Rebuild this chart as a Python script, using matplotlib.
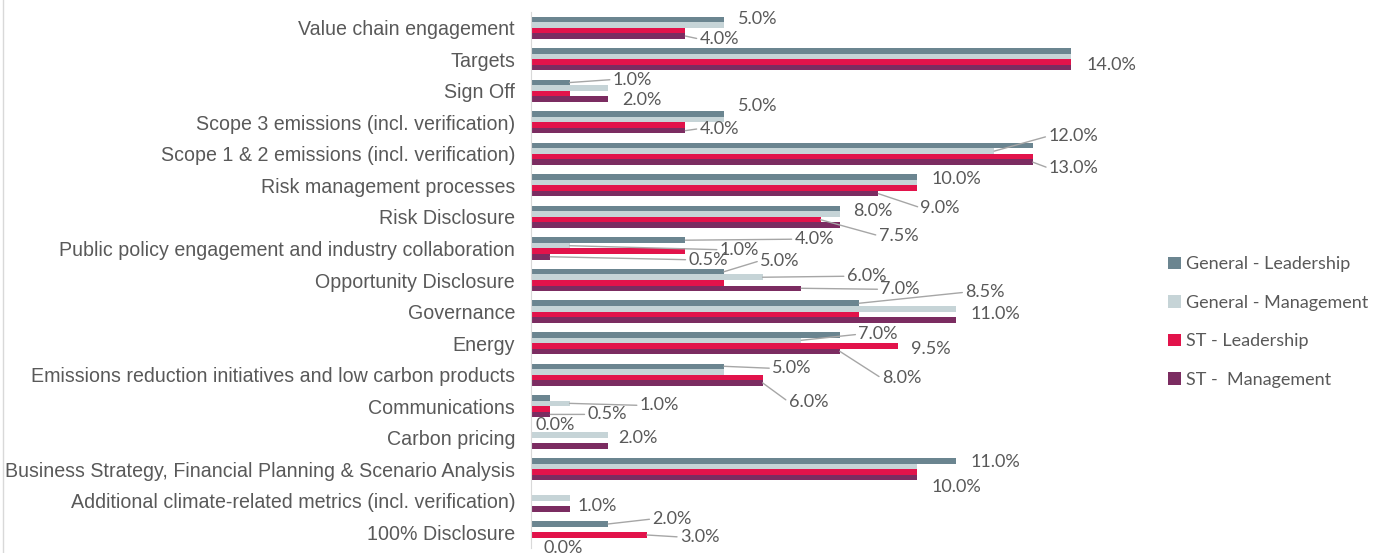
import numpy as np
import matplotlib.pyplot as plt
from matplotlib.patches import Patch
from matplotlib.lines import Line2D

categories = [
    'Value chain engagement', 'Targets', 'Sign Off',
    'Scope 3 emissions (incl. verification)',
    'Scope 1 & 2 emissions (incl. verification)',
    'Risk management processes', 'Risk Disclosure',
    'Public policy engagement and industry collaboration',
    'Opportunity Disclosure', 'Governance', 'Energy',
    'Emissions reduction initiatives and low carbon products',
    'Communications', 'Carbon pricing',
    'Business Strategy, Financial Planning & Scenario Analysis',
    'Additional climate-related metrics (incl. verification)',
    '100% Disclosure',
]
series = ['General - Leadership', 'General - Management', 'ST - Leadership', 'ST -  Management']
gen_leadership = [5.0, 14.0, 1.0, 5.0, 13.0, 10.0, 8.0, 4.0, 5.0, 8.5, 8.0, 5.0, 0.5, 0.0, 11.0, 0.0, 2.0]
gen_management = [5.0, 14.0, 2.0, 5.0, 12.0, 10.0, 8.0, 1.0, 6.0, 11.0, 7.0, 5.0, 1.0, 2.0, 10.0, 1.0, 0.0]
st_leadership = [4.0, 14.0, 1.0, 4.0, 13.0, 10.0, 7.5, 4.0, 5.0, 8.5, 9.5, 6.0, 0.5, 0.0, 10.0, 0.0, 3.0]
st_management = [4.0, 14.0, 2.0, 4.0, 13.0, 9.0, 8.0, 0.5, 7.0, 11.0, 8.0, 6.0, 0.5, 2.0, 10.0, 1.0, 0.0]

colors = ['#6B8590', '#C6D4D7', '#E2134B', '#7B2C61']
values = [gen_leadership, gen_management, st_leadership, st_management]

# visible data labels: (category, series, dx px, dy px (down), leader line)
labels = [
    (0, 0, 14, 0, False), (0, 3, 14, 3, True),
    (1, 2, 15, 3, False),
    (2, 0, 43, -3, True), (2, 3, 14, 1, False),
    (3, 0, 14, -8, False), (3, 3, 14, -2, True),
    (4, 1, 54, -15, True), (4, 3, 16, 6, True),
    (5, 0, 15, 2, False), (5, 3, 42, 14, True),
    (6, 0, 13, 2, False), (6, 2, 58, 16, True),
    (7, 0, 109, -1, True), (7, 1, 150, 4, True), (7, 3, 138, 3, True),
    (8, 0, 36, -11, True), (8, 1, 84, -1, True), (8, 3, 79, 1, True),
    (9, 0, 106, -11, True), (9, 1, 15, 5, False),
    (10, 1, 57, -6, True), (10, 2, 13, 3, False), (10, 3, 42, 27, True),
    (11, 0, 48, 2, True), (11, 3, 26, 19, True),
    (12, 1, 70, 2, True), (12, 3, 37, 0, True),
    (13, 0, 4, -4, False), (13, 3, 10, -8, False),
    (14, 0, 15, 1, False), (14, 3, 15, 10, False),
    (15, 3, 8, -3, False),
    (16, 0, 44, -5, True), (16, 2, 33, 2, True), (16, 3, 12, 7, False),
]

W, H = 1378, 553
fig = plt.figure(figsize=(W / 100, H / 100), dpi=100)
ax = fig.add_axes([531 / W, 1 - 548 / H, (1110 - 531) / W, (548 - 12) / H])

y = np.arange(len(categories))
bar_h = 0.175
offsets = [-1.5 * bar_h, -0.5 * bar_h, 0.5 * bar_h, 1.5 * bar_h]
for vals, col, off, name in zip(values, colors, offsets, series):
    ax.barh(y + off, vals, height=bar_h, color=col, label=name)

ax.set_xlim(0, 15)
ax.set_ylim(len(categories) - 0.5, -0.5)
ax.set_yticks(y)
ax.set_yticklabels(categories, fontsize=14.1, color='#595959', family='Liberation Sans')
ax.tick_params(axis='y', length=0, pad=11.5)
ax.set_xticks([])
for s in ['top', 'right', 'bottom']:
    ax.spines[s].set_visible(False)
ax.spines['left'].set_color('#D9D9D9')

for ci, si, dx, dy, leader in labels:
    v = values[si][ci]
    kw = dict(xy=(v, y[ci] + offsets[si]), xytext=(dx, -dy), textcoords='offset pixels',
              ha='left', va='center', fontsize=13, color='#595959', family='Lato')
    if leader:
        kw['arrowprops'] = dict(arrowstyle='-', color='#A6A6A6', lw=1,
                                shrinkA=0, shrinkB=0, relpos=(0, 0.5))
    ax.annotate(f'{v:.1f}%', **kw)

handles = [Patch(facecolor=c, edgecolor='none') for c in colors]
fig.legend(handles, series, loc='center left', bbox_to_anchor=(1152 / W, 1 - 322 / H),
           frameon=False, handlelength=0.7, handleheight=0.7,
           handletextpad=0.3, labelspacing=1.25, labelcolor='#595959',
           prop={'family': 'Lato', 'size': 13})

fig.add_artist(Line2D([3 / W, 3 / W], [0, 1], color='#D9D9D9', lw=1))

plt.savefig('out.png', dpi=100)
plt.close()
